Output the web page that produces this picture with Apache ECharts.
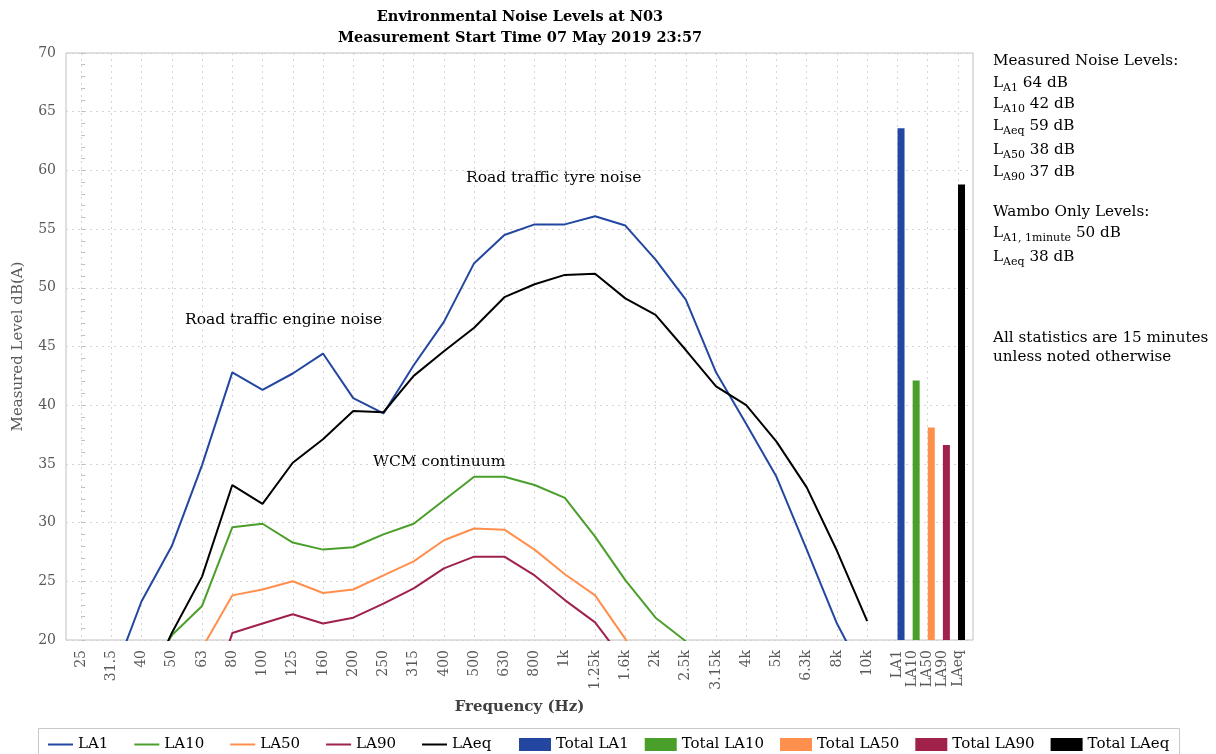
<!DOCTYPE html>
<html>
<head>
<meta charset="utf-8">
<title>Environmental Noise Levels at N03</title>
<script src="https://cdn.jsdelivr.net/npm/echarts@6.0.0/dist/echarts.min.js"></script>
<style>
  html, body { margin: 0; padding: 0; background: #fff; }
  #chart { width: 1216px; height: 754px; }
</style>
</head>
<body>
<div id="chart"></div>
<script>
// third-octave bands (Hz)
const bands = ['25', '31.5', '40', '50', '63', '80', '100', '125', '160', '200', '250', '315', '400',
  '500', '630', '800', '1k', '1.25k', '1.6k', '2k', '2.5k', '3.15k', '4k', '5k', '6.3k', '8k', '10k'];

// spectra in dB(A); values under 20 only show as the line running off the axis
const la1 = [null, 16.5, 23.3, 28.0, 34.9, 42.8, 41.3, 42.7, 44.4, 40.6, 39.3, 43.4, 47.1,
  52.1, 54.5, 55.4, 55.4, 56.1, 55.3, 52.4, 49.0, 42.8, 38.4, 33.9, 27.7, 21.4, 16.5];
const la10 = [null, null, 16.0, 20.4, 22.9, 29.6, 29.9, 28.3, 27.7, 27.9, 29.0, 29.9, 31.9,
  33.9, 33.9, 33.2, 32.1, 28.8, 25.1, 21.9, 19.9, null, null, null, null, null, null];
const la50 = [null, null, null, null, 19.3, 23.8, 24.3, 25.0, 24.0, 24.3, 25.5, 26.7, 28.5,
  29.5, 29.4, 27.7, 25.6, 23.8, 20.1, 16.0, null, null, null, null, null, null, null];
const la90 = [null, null, null, null, 12.7, 20.6, 21.4, 22.2, 21.4, 21.9, 23.1, 24.4, 26.1,
  27.1, 27.1, 25.5, 23.4, 21.5, 18.1, null, null, null, null, null, null, null, null];
const laeq = [null, null, 15.0, 20.6, 25.4, 33.2, 31.6, 35.1, 37.1, 39.5, 39.4, 42.5, 44.6,
  46.6, 49.2, 50.3, 51.1, 51.2, 49.1, 47.7, 44.7, 41.6, 40.0, 36.9, 33.0, 27.6, 21.6];

// overall levels
const totalLabels = ['LA1', 'LA10', 'LA50', 'LA90', 'LAeq'];
const totals = [63.6, 42.1, 38.1, 36.6, 58.8];

const colors = ['#2347A0', '#4A9F2A', '#FF8F4D', '#A0224A', '#000000'];
const serif = 'DejaVu Serif';
const grey = '#595959';
const barShift = 0.12; // bars sit a touch right of their labels

const lineData = [la1, la10, la50, la90, laeq];
const lineSeries = totalLabels.map((name, k) => ({
  type: 'line',
  name: name,
  color: colors[k],
  symbol: 'none',
  lineStyle: { width: 2, color: colors[k] },
  data: lineData[k].map((v, i) => [i, v]),
  z: 3
}));

// summary bars sit after the last band, half a band apart
const barSeries = totalLabels.map((name, k) => ({
  type: 'bar',
  name: 'Total ' + name,
  color: colors[k],
  barWidth: 7,
  barGap: '-100%',
  data: [[bands.length + k * 0.5 + barShift, totals[k]]],
  z: 4
}));

function xLabel(v) {
  const r = Math.round(v * 2) / 2;
  if (Number.isInteger(r) && r >= 0 && r < bands.length) return bands[r];
  const k = (r - bands.length) * 2;
  if (k >= 0 && k < totalLabels.length) return totalLabels[k];
  return '';
}

// right-hand notes
const notes = [
  [61, 'Measured Noise Levels:'],
  [83, 'L{s|A1} 64 dB'],
  [104, 'L{s|A10} 42 dB'],
  [126, 'L{s|Aeq} 59 dB'],
  [150, 'L{s|A50} 38 dB'],
  [172, 'L{s|A90} 37 dB'],
  [212, 'Wambo Only Levels:'],
  [233, 'L{s|A1, 1minute} 50 dB'],
  [257, 'L{s|Aeq} 38 dB'],
  [338, 'All statistics are 15 minutes'],
  [357, 'unless noted otherwise']
];

const richStyle = {
  s: { fontSize: 11, fontFamily: serif, lineHeight: 13, verticalAlign: 'bottom', fill: '#000' }
};

const graphics = [
  { type: 'text', x: 520, y: 17, style: { text: 'Environmental Noise Levels at N03', font: 'bold 14.5px ' + serif, fill: '#000', align: 'center', verticalAlign: 'middle' } },
  { type: 'text', x: 520, y: 38, style: { text: 'Measurement Start Time 07 May 2019 23:57', font: 'bold 14.5px ' + serif, fill: '#000', align: 'center', verticalAlign: 'middle' } },
  { type: 'text', x: 185, y: 320, style: { text: 'Road traffic engine noise', font: '15.5px ' + serif, fill: '#000', verticalAlign: 'middle' } },
  { type: 'text', x: 466, y: 178, style: { text: 'Road traffic tyre noise', font: '15.5px ' + serif, fill: '#000', verticalAlign: 'middle' } },
  { type: 'text', x: 373, y: 462, style: { text: 'WCM continuum', font: '15.5px ' + serif, fill: '#000', verticalAlign: 'middle' } },
  { type: 'rect', shape: { x: 38.5, y: 728.5, width: 1141, height: 40 }, style: { fill: 'none', stroke: '#c8c8c8', lineWidth: 1 } }
].concat(notes.map(n => ({
  type: 'text', x: 993, y: n[0],
  style: { text: n[1], font: '15.2px ' + serif, fill: '#000', verticalAlign: 'middle', lineHeight: 22, rich: richStyle }
})));

const chart = echarts.init(document.getElementById('chart'));
chart.setOption({
  animation: false,
  backgroundColor: '#fff',
  textStyle: { fontFamily: serif },
  grid: { left: 66, right: 243, top: 53, bottom: 114, show: true, borderColor: '#c0c0c0', borderWidth: 1 },
  xAxis: {
    type: 'value',
    min: -0.5,
    max: 29.5,
    interval: 0.5,
    name: 'Frequency (Hz)',
    nameLocation: 'middle',
    nameGap: 60,
    nameTextStyle: { fontFamily: serif, fontWeight: 'bold', fontSize: 15, color: '#404040' },
    axisLine: { show: false },
    axisTick: { show: false },
    axisLabel: { rotate: 90, margin: 10, color: grey, fontFamily: serif, fontSize: 14, formatter: xLabel },
    splitLine: { show: true, lineStyle: { color: ['rgba(0,0,0,0)', '#d4d4d4'], type: [2, 4], width: 1 } }
  },
  yAxis: {
    type: 'value',
    min: 20,
    max: 70,
    interval: 5,
    name: 'Measured Level dB(A)',
    nameLocation: 'middle',
    nameGap: 40,
    nameTextStyle: { fontFamily: serif, fontSize: 15, color: grey },
    axisLine: { show: false },
    axisTick: { show: true, inside: true, length: 4, lineStyle: { color: '#c0c0c0' } },
    minorTick: { show: true, splitNumber: 5, length: 4, lineStyle: { color: '#c0c0c0' } },
    axisLabel: { margin: 10, color: grey, fontFamily: serif, fontSize: 14 },
    splitLine: { show: true, lineStyle: { color: '#d4d4d4', type: [2, 4], width: 1 } }
  },
  legend: [
    {
      data: totalLabels,
      left: 48, top: 737, padding: 0,
      icon: 'rect',
      itemWidth: 25, itemHeight: 2, itemGap: 26,
      textStyle: { fontFamily: serif, fontSize: 15, color: '#000' }
    },
    {
      data: totalLabels.map(n => 'Total ' + n),
      left: 519, top: 737, padding: 0,
      icon: 'rect',
      itemWidth: 32, itemHeight: 13, itemGap: 16,
      textStyle: { fontFamily: serif, fontSize: 15, color: '#000' }
    }
  ],
  graphic: graphics,
  series: lineSeries.concat(barSeries)
});
</script>
</body>
</html>
